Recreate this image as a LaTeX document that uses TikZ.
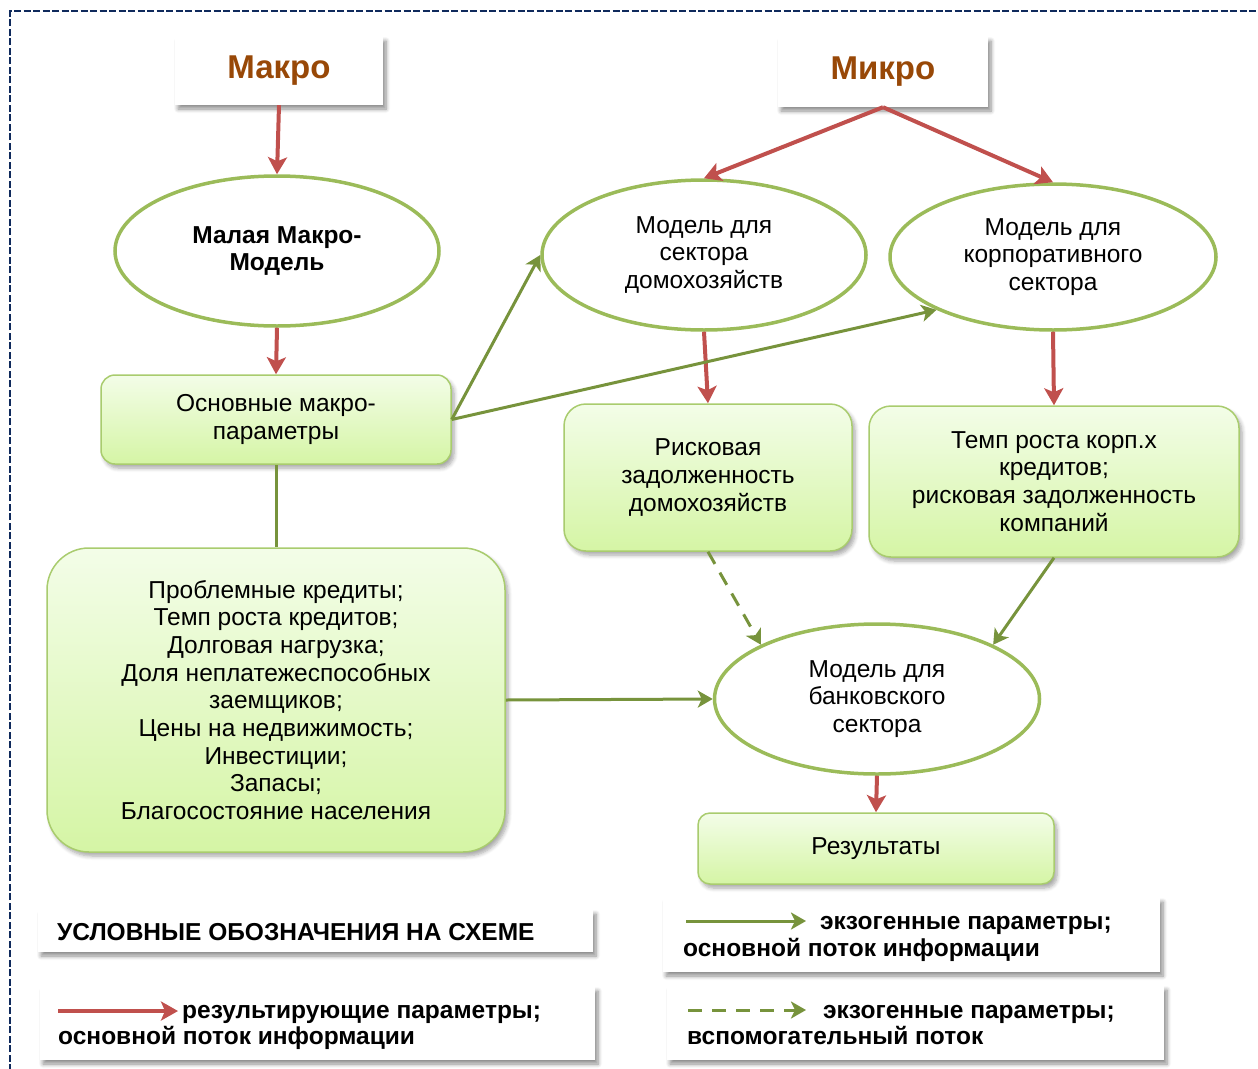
\documentclass[tikz,border=0pt]{standalone}
\usepackage{fontspec}
\setmainfont{Liberation Sans}
\usetikzlibrary{arrows.meta,shapes.geometric,shadows.blur,positioning}
\definecolor{schemeRed}{HTML}{C0504D}
\definecolor{schemeGreen}{HTML}{77933C}
\definecolor{schemeLight}{HTML}{9BBB59}
\definecolor{schemeEdge}{HTML}{A9CC6E}
\definecolor{schemeBrown}{HTML}{984807}
\definecolor{schemeNavy}{HTML}{0F2A5C}
\definecolor{gradTop}{HTML}{F3FDE8}
\definecolor{gradBot}{HTML}{D5F5A5}
\newcommand\boxfont{\fontsize{24.5}{27.7}\selectfont}
\newcommand\legfont{\fontsize{24.5}{27}\selectfont\bfseries}
\tikzset{
    hbox/.style={fill=white, blur shadow={shadow xshift=3pt, shadow yshift=-4pt, shadow opacity=45, shadow blur steps=6, shadow blur radius=4pt}, inner sep=0pt},
    gbox/.style={draw=schemeEdge, line width=1.5pt, rounded corners=14pt, top color=gradTop, bottom color=gradBot, blur shadow={shadow xshift=3pt, shadow yshift=-4pt, shadow opacity=35, shadow blur steps=6, shadow blur radius=4pt}, align=center, font=\boxfont, inner sep=0pt},
    oval/.style={ellipse, draw=schemeLight, line width=3.5pt, fill=white, minimum width=324pt, minimum height=150pt, align=center, font=\boxfont, inner sep=0pt},
    redarr/.style={draw=schemeRed, line width=4pt, -{Stealth[length=17pt, width=19pt, inset=4pt]}},
    grnarr/.style={draw=schemeGreen, line width=3pt, -{Stealth[length=15pt, width=17pt, inset=4pt]}},
    dasharr/.style={grnarr, dash pattern=on 14pt off 10pt},
    legtext/.style={anchor=base west, font=\legfont, inner sep=0pt}
}
\begin{document}
\begin{tikzpicture}[x=1pt, y=-1pt]
    \useasboundingbox (0,0) rectangle (1258,1068);
    \clip (0,0) rectangle (1258,1068);
    \draw[schemeNavy, line width=2pt, dash pattern=on 7pt off 2.5pt] (10,1090) -- (10,11) -- (1280,11);

    % top level
    \node[hbox, minimum width=208pt, minimum height=68pt, font=\fontsize{33}{38}\selectfont\bfseries, text=schemeBrown] (makro) at (279,71) {Макро};
    \node[hbox, minimum width=210pt, minimum height=70pt, font=\fontsize{33}{38}\selectfont\bfseries, text=schemeBrown] (mikro) at (883,72) {Микро};

    % models
    \node[oval, font=\boxfont\bfseries] (smallmac) at (277,251) {Малая Макро-\\Модель};
    \node[oval] (hh) at (704,255) {Модель для\\сектора\\домохозяйств};
    \node[oval, minimum width=326pt, minimum height=146pt] (corp) at (1053,257) {Модель для\\корпоративного\\сектора};
    \node[oval, minimum width=325pt] (bank) at (877,699) {Модель для\\банковского\\сектора};

    % parameter boxes
    \node[gbox, minimum width=350pt, minimum height=89pt] (macpar) at (276,419.5) {Основные макро-\\параметры};
    \node[gbox, minimum width=458pt, minimum height=304pt, rounded corners=42pt] (macro list) at (276,700) {Проблемные кредиты;\\Темп роста кредитов;\\Долговая нагрузка;\\Доля неплатежеспособных\\заемщиков;\\Цены на недвижимость;\\Инвестиции;\\Запасы;\\Благосостояние населения};
    \node[gbox, minimum width=288pt, minimum height=147pt, rounded corners=22pt] (hhrisk) at (708,477.5) {Рисковая\\задолженность\\домохозяйств};
    \node[gbox, minimum width=370pt, minimum height=151pt, rounded corners=22pt] (corprisk) at (1054,481.5) {Темп роста корп.х\\кредитов;\\рисковая задолженность\\компаний};
    \node[gbox, minimum width=356pt, minimum height=71pt, rounded corners=12pt] (result) at (876,848.5) {Результаты};

    % connectors
    \draw[redarr] (makro.south) -- (smallmac.north);
    \draw[redarr] (smallmac.south) -- (macpar.north);
    \draw[redarr] (mikro.south) -- (hh.north);
    \draw[redarr] (mikro.south) -- (corp.north);
    \draw[redarr] (hh.south) -- (hhrisk.north);
    \draw[redarr] (corp.south) -- (corprisk.north);
    \draw[redarr] (bank.south) -- (result.north);
    \draw[schemeGreen, line width=3pt] (macpar.south) -- (macro list.north);
    \draw[grnarr] (macpar.east) -- (hh.west);
    \draw[grnarr] (macpar.east) -- (corp.south west);
    \draw[grnarr] (macro list.east) -- (bank.west);
    \draw[dasharr] (hhrisk.south) -- (bank.north west);
    \draw[grnarr] (corprisk.south) -- (bank.north east);

    % legend
    \node[hbox, minimum width=555pt, minimum height=42pt] (legtitle) at (315.5,931) {};
    \node[legtext] (legtitle text) at (57,940) {УСЛОВНЫЕ ОБОЗНАЧЕНИЯ НА СХЕМЕ};

    \node[hbox, minimum width=555pt, minimum height=73pt] (legred) at (317.5,1023.5) {};
    \coordinate (legred a) at (58,1011);
    \coordinate (legred b) at (178,1011);
    \draw[redarr] (legred a) -- (legred b);
    \node[legtext] (legred one) at (182,1018) {результирующие параметры;};
    \node[legtext] (legred two) at (58,1044) {основной поток информации};

    \node[hbox, minimum width=497pt, minimum height=74pt] (leggrn) at (911.5,935) {};
    \coordinate (leggrn a) at (686,921);
    \coordinate (leggrn b) at (806,921);
    \draw[grnarr] (leggrn a) -- (leggrn b);
    \node[legtext] (leggrn one) at (820,929) {экзогенные параметры;};
    \node[legtext] (leggrn two) at (683,956) {основной поток информации};

    \node[hbox, minimum width=497pt, minimum height=74pt] (legdash) at (915.5,1023) {};
    \coordinate (legdash a) at (688,1010);
    \coordinate (legdash b) at (806,1010);
    \draw[dasharr] (legdash a) -- (legdash b);
    \node[legtext] (legdash one) at (823,1018) {экзогенные параметры;};
    \node[legtext] (legdash two) at (687,1044) {вспомогательный поток};
\end{tikzpicture}
\end{document}
